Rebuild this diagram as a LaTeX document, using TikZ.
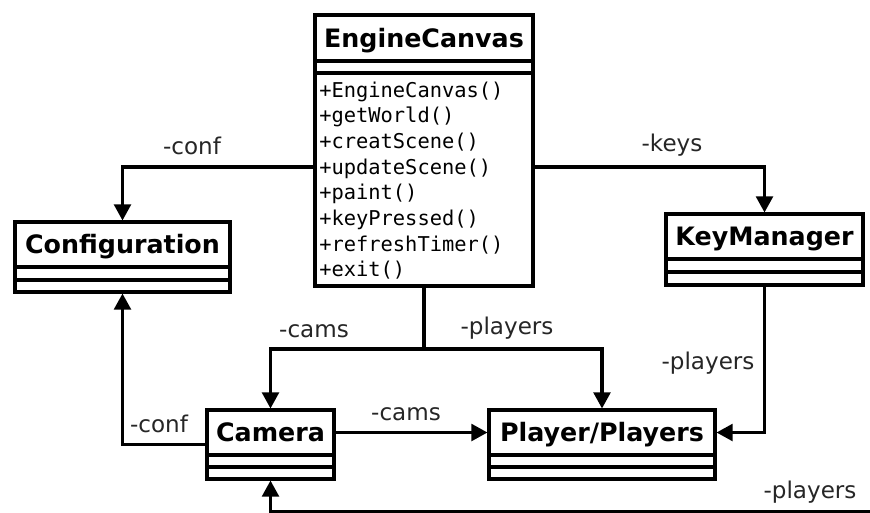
\documentclass[tikz,border=0pt]{standalone}
\usepackage{fontspec}
\setmainfont{DejaVu Sans}
\newfontfamily\monof{DejaVu Sans Mono}
\usetikzlibrary{arrows.meta,fit}
\begin{document}
\begin{tikzpicture}[x=0.75pt,y=-0.75pt,
 comp/.style={draw, line width=2.3pt, inner sep=0pt},
 whole/.style={inner sep=0pt},
 cname/.style={font=\fontsize{19}{22}\selectfont\bfseries, inner sep=0pt, text height=13.8pt, text depth=0pt},
 conn/.style={line width=2.3pt, -{Triangle[length=12pt,width=12.5pt]}},
 wire/.style={line width=2.3pt},
 lbl/.style={font=\fontsize{17.3}{20}\selectfont, inner sep=0pt, text=black!85},
 meth/.style={font=\fontsize{15.3}{18}\selectfont\monof, anchor=base west, inner sep=0pt}
]
\useasboundingbox (0,0) rectangle (870,512);
\fill[white] (0,0) rectangle (870,512);

% EngineCanvas
\node[comp, fit={(315,15)(533,61)}] (ecn) {};
\node[comp, fit={(315,61)(533,73)}] (eca) {};
\node[comp, fit={(315,73)(533,286)}] (ecm) {};
\node[whole, fit={(315,15)(533,286)}] (ec) {};
\node[cname] (ect) at (ecn.center) {EngineCanvas};
\foreach \t [count=\i from 0] in {+EngineCanvas(),+getWorld(),+creatScene(),+updateScene(),+paint(),+keyPressed(),+refreshTimer(),+exit()}
  \node[meth] (m\i) at (319,{97+25.7*\i}) {\t};

% Configuration
\node[comp, fit={(15,222)(230,267)}] (cfgn) {};
\node[comp, fit={(15,267)(230,280)}] (cfga) {};
\node[comp, fit={(15,280)(230,292)}] (cfgm) {};
\node[whole, fit={(15,222)(230,292)}] (cfg) {};
\node[cname] (cfgt) at (cfgn.center) {Configuration};

% KeyManager
\node[comp, fit={(666,214)(863,259)}] (kmn) {};
\node[comp, fit={(666,259)(863,272)}] (kma) {};
\node[comp, fit={(666,272)(863,285)}] (kmm) {};
\node[whole, fit={(666,214)(863,285)}] (km) {};
\node[cname] (kmt) at (kmn.center) {KeyManager};

% Camera
\node[comp, fit={(207,410)(334,455)}] (camn) {};
\node[comp, fit={(207,455)(334,467)}] (cama) {};
\node[comp, fit={(207,467)(334,479)}] (camm) {};
\node[whole, fit={(207,410)(334,479)}] (cam) {};
\node[cname] (camt) at (camn.center) {Camera};

% Player/Players
\node[comp, fit={(489,410)(715,455)}] (pln) {};
\node[comp, fit={(489,455)(715,467)}] (pla) {};
\node[comp, fit={(489,467)(715,479)}] (plm) {};
\node[whole, fit={(489,410)(715,479)}] (pl) {};
\node[cname] (plt) at (pln.center) {Player/Players};

% connectors
\coordinate (confbend) at (122,167);
\coordinate (keysbend) at (765,167);
\coordinate (split) at (424,349);
\coordinate (botR) at (890,512);

\draw[conn] (confbend -| ecm.west) -| (cfgn.north);
\draw[conn] (keysbend -| ecm.east) -| (kmn.north);
\draw[wire] (ecm.south) -- (split);
\draw[conn] (split) -| (camn.north);
\draw[conn] (split) -| (pln.north);
\draw[conn] (kmm.south) |- (pln.east);
\draw[conn] (camn.east) -- (pln.west);
\draw[conn] (cam.west) -| (cfgm.south);
\draw[conn] (botR) -| (camm.south);

% labels
\node[lbl] (l1) at (192,146) {-conf};
\node[lbl] (l2) at (672,145) {-keys};
\node[lbl] (l3) at (314,331) {-cams};
\node[lbl] (l4) at (507,328) {-players};
\node[lbl] (l5) at (708,363) {-players};
\node[lbl] (l6) at (406,414) {-cams};
\node[lbl] (l7) at (159,424) {-conf};
\node[lbl] (l8) at (810,492) {-players};
\end{tikzpicture}
\end{document}
